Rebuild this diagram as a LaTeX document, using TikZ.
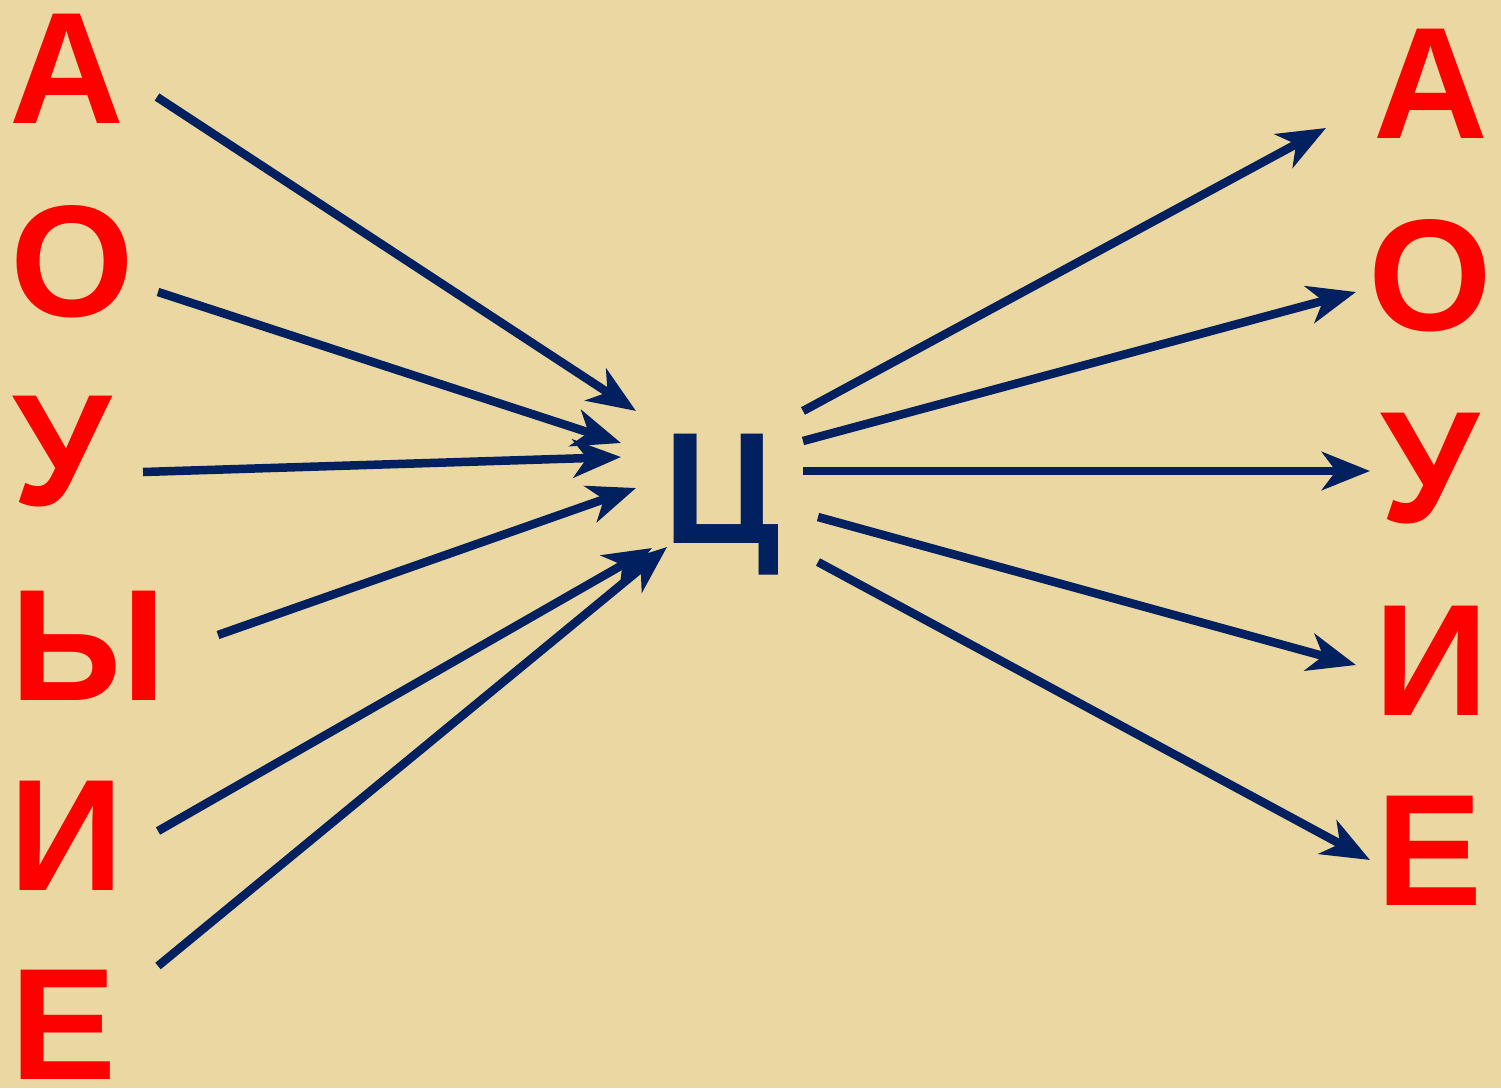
\documentclass[tikz,border=0pt]{standalone}
\usepackage{fontspec}
\setmainfont{Liberation Sans}
\newfontfamily\heavyfont{Liberation Sans Bold}
\usetikzlibrary{arrows.meta}
\definecolor{papyrus}{HTML}{EBD7A2}
\definecolor{vowred}{HTML}{FF0000}
\definecolor{navy}{HTML}{002060}

\begin{document}
\begin{tikzpicture}[
  x=1pt, y=-1pt,
  >={Stealth[length=48pt, width=38pt, inset=14pt]},
  vowel/.style={text=vowred, font=\heavyfont\fontsize{159}{159}\selectfont,
    inner sep=0pt, anchor=base},
  cons/.style={text=navy, font=\heavyfont\fontsize{159}{159}\selectfont,
    inner sep=0pt, anchor=base},
  arr/.style={->, line width=8.5pt, navy},
]

% Background
\fill[papyrus] (0,0) rectangle (1501,1088);

% === Left column ===
\node[vowel] (lA) at (67,123) {А};
\node[vowel] (lO) at (72,316) {О};
\node[vowel] (lU) at (62,505) {У};
\node[vowel] (lY) at (88,700) {Ы};
\node[vowel] (lI) at (67,890) {И};
\node[vowel] (lE) at (64,1079) {Е};

% === Centre consonant ===
\node[cons] (ts) at (722,543) {Ц};

% === Right column ===
\node[vowel] (rA) at (1431,138) {А};
\node[vowel] (rO) at (1430,330) {О};
\node[vowel] (rU) at (1430,522) {У};
\node[vowel] (rI) at (1432,715) {И};
\node[vowel] (rE) at (1430,905) {Е};

% Arrow ends
\coordinate (sA) at (157,97);
\coordinate (sO) at (158,292);
\coordinate (sU) at (143,472);
\coordinate (sY) at (218,635);
\coordinate (sI) at (158,831);
\coordinate (sE) at (158,966);
\coordinate (inA) at (636,411);
\coordinate (inO) at (621,443);
\coordinate (inU) at (621,457);
\coordinate (inY) at (636,488);
\coordinate (inI) at (652,548);
\coordinate (inE) at (667,547);

\coordinate (outA) at (803,411);
\coordinate (outO) at (803,441);
\coordinate (outU) at (803,471);
\coordinate (outI) at (818,517);
\coordinate (outE) at (818,562);
\coordinate (eA) at (1326,128);
\coordinate (eO) at (1356,292);
\coordinate (eU) at (1370,471);
\coordinate (eI) at (1356,665);
\coordinate (eE) at (1370,860);

% Arrows: vowels -> Ц
\draw[arr] (sA) -- (inA);
\draw[arr] (sO) -- (inO);
\draw[arr] (sU) -- (inU);
\draw[arr] (sY) -- (inY);
\draw[arr] (sI) -- (inI);
\draw[arr] (sE) -- (inE);

% Arrows: Ц -> vowels
\draw[arr] (outA) -- (eA);
\draw[arr] (outO) -- (eO);
\draw[arr] (outU) -- (eU);
\draw[arr] (outI) -- (eI);
\draw[arr] (outE) -- (eE);

\end{tikzpicture}
\end{document}
